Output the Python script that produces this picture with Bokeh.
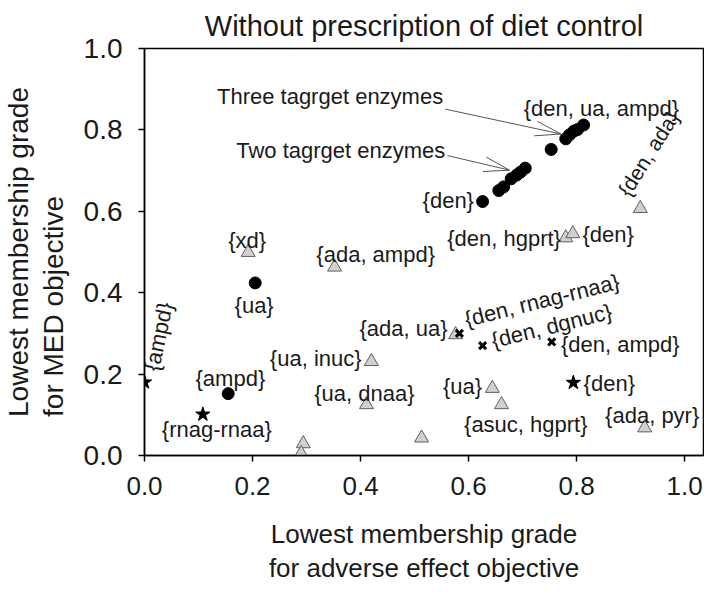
import math
from bokeh.plotting import figure
from bokeh.models import Range1d, FixedTicker, Label, NumeralTickFormatter
from bokeh.embed import file_html
from bokeh.resources import INLINE

# ---------------- data ----------------
title_text = "Without prescription of diet control"
x_label = ["Lowest membership grade", "for adverse effect objective"]
y_label = ["Lowest membership grade", "for MED objective"]
ticks = [0.0, 0.2, 0.4, 0.6, 0.8, 1.0]

# filled circles (single / two / three target enzymes)
circle_x = [0.155, 0.205, 0.626, 0.656, 0.665, 0.679, 0.689, 0.696, 0.705,
            0.753, 0.780, 0.787, 0.795, 0.802, 0.813]
circle_y = [0.152, 0.424, 0.624, 0.651, 0.660, 0.680, 0.689, 0.696, 0.706,
            0.752, 0.778, 0.788, 0.797, 0.801, 0.812]

# grey triangles
tri_x = [0.192, 0.352, 0.420, 0.411, 0.294, 0.290, 0.513, 0.576, 0.644,
         0.661, 0.926, 0.780, 0.793, 0.918]
tri_y = [0.499, 0.463, 0.231, 0.125, 0.029, 0.005, 0.043, 0.297, 0.165,
         0.125, 0.068, 0.535, 0.545, 0.607]

# stars
star_x = [0.0, 0.108, 0.794]
star_y = [0.180, 0.101, 0.179]

# crosses
cross_x = [0.583, 0.626, 0.754]
cross_y = [0.300, 0.270, 0.279]

# point labels: text, x, y, align, angle (deg)
lab_text = ["{den, ua, ampd}", "{den}", "{den, hgprt}", "{den}", "{den, ada}",
            "{xd}", "{ada, ampd}", "{ua}", "{ada, ua}", "{ua, inuc}",
            "{ua, dnaa}", "{ampd}", "{rnag-rnaa}", "{ampd}",
            "{den, rnag-rnaa}", "{den, dgnuc}", "{den, ampd}", "{ua}",
            "{asuc, hgprt}", "{den}", "{ada, pyr}"]
lab_x = [0.846, 0.610, 0.771, 0.811, 0.933,
         0.190, 0.428, 0.203, 0.561, 0.402,
         0.407, 0.159, 0.134, 0.026,
         0.736, 0.754, 0.771, 0.625,
         0.706, 0.813, 0.940]
lab_y = [0.853, 0.627, 0.533, 0.542, 0.742,
         0.528, 0.494, 0.369, 0.313, 0.239,
         0.152, 0.188, 0.063, 0.292,
         0.381, 0.318, 0.272, 0.169,
         0.075, 0.176, 0.099]
lab_align = ["center", "right", "right", "left", "center",
             "center", "center", "center", "right", "right",
             "center", "center", "center", "center",
             "center", "center", "left", "right",
             "center", "left", "center"]
lab_angle = [0, 0, 0, 0, 58,
             0, 0, 0, 0, 0,
             0, 0, 0, 78,
             14, 14, 0, 0,
             0, 0, 0]

# annotations with arrows: text, text x, text y, arrow start, arrow tip
ann_text = ["Three tagrget enzymes", "Two tagrget enzymes"]
ann_tx = [0.553, 0.557]
ann_ty = [0.882, 0.749]
arr_x0 = [0.557, 0.561]
arr_y0 = [0.851, 0.737]
arr_x1 = [0.771, 0.676]
arr_y1 = [0.790, 0.701]

# ---------------- figure ----------------
W, H = 704, 586
ML, MR, MT, MB = 138, 1, 48, 128
X_END, Y_END = 1.035, 1.0
FONT = "Liberation Sans"
TXT = "#1a1a1a"
NBSP = "\u00a0"

p = figure(width=W, height=H, output_backend="svg", toolbar_location=None,
           x_range=Range1d(0, X_END), y_range=Range1d(0, Y_END),
           min_border_left=ML, min_border_right=MR,
           min_border_top=MT, min_border_bottom=MB)
p.background_fill_color = "white"
p.border_fill_color = "white"
p.outline_line_color = "black"
p.outline_line_width = 1.5
p.xgrid.visible = False
p.ygrid.visible = False

p.title.text = title_text
p.title.align = "center"
p.title.text_font = FONT
p.title.text_font_size = "29px"
p.title.text_font_style = "normal"
p.title.text_color = TXT
p.title.standoff = 13

for ax in (p.xaxis[0], p.yaxis[0]):
    ax.ticker = FixedTicker(ticks=ticks)
    ax.formatter = NumeralTickFormatter(format="0.0")
    ax.major_tick_in = 0
    ax.major_tick_out = 6
    ax.minor_tick_in = 0
    ax.minor_tick_out = 0
    ax.axis_line_width = 1.5
    ax.axis_line_color = "black"
    ax.major_tick_line_color = "black"
    ax.major_tick_line_width = 1.5
    ax.major_label_text_font = FONT
    ax.major_label_text_color = TXT
    ax.axis_label_text_font = FONT
    ax.axis_label_text_font_style = "normal"
    ax.axis_label_text_color = TXT
p.xaxis.major_label_text_font_size = "26px"
p.yaxis.major_label_text_font_size = "28px"
p.xaxis.axis_label_text_font_size = "26px"
p.yaxis.axis_label_text_font_size = "28px"
p.xaxis.axis_label_text_line_height = 1.15
p.yaxis.axis_label_text_line_height = 1.1
# lines of the axis titles are left-aligned in the reference: pad the shorter line
p.xaxis.axis_label = "\n".join(x_label)
p.yaxis.axis_label = y_label[0] + "\n" + y_label[1] + NBSP * 14
p.xaxis.major_label_standoff = 15
p.yaxis.major_label_standoff = 16
p.xaxis.axis_label_standoff = 21
p.yaxis.axis_label_standoff = 12

# markers
p.scatter(tri_x, tri_y, marker="triangle", size=14, fill_color="#d0d0d0",
          line_color="#606060", line_width=1)
p.scatter(circle_x, circle_y, marker="circle", size=12, fill_color="black",
          line_color="black")
p.scatter(star_x, star_y, marker="star", size=15, fill_color="black",
          line_color="black")
p.scatter(cross_x, cross_y, marker="x", size=10, line_color="black",
          line_width=3)

# arrows (shaft + open head computed in pixel space)
sx = (W - ML - MR) / X_END
sy = (H - MT - MB) / Y_END
HEAD_LEN, HEAD_ANG = 27.0, math.radians(16)
seg_x0, seg_y0, seg_x1, seg_y1 = [], [], [], []
for xa, ya, xb, yb in zip(arr_x0, arr_y0, arr_x1, arr_y1):
    seg_x0.append(xa); seg_y0.append(ya); seg_x1.append(xb); seg_y1.append(yb)
    th = math.atan2((ya - yb) * sy, (xa - xb) * sx)
    for s in (1, -1):
        seg_x0.append(xb + HEAD_LEN * math.cos(th + s * HEAD_ANG) / sx)
        seg_y0.append(yb + HEAD_LEN * math.sin(th + s * HEAD_ANG) / sy)
        seg_x1.append(xb); seg_y1.append(yb)
p.segment(seg_x0, seg_y0, seg_x1, seg_y1, line_color="#555555", line_width=1)

def add_label(text, x, y, align="center", angle=0.0, size="22px", baseline="middle"):
    p.add_layout(Label(x=x, y=y, text=text, text_align=align,
                       text_baseline=baseline, angle=angle,
                       text_font=FONT, text_font_size=size, text_color=TXT))

for t, x, y, a, ang in zip(lab_text, lab_x, lab_y, lab_align, lab_angle):
    add_label(t, x, y, a, math.radians(ang), "21px" if t == "{den, ada}" else "22px")
for t, x, y in zip(ann_text, ann_tx, ann_ty):
    add_label(t, x, y, "right")

open("out.html", "w").write(file_html(p, INLINE))
